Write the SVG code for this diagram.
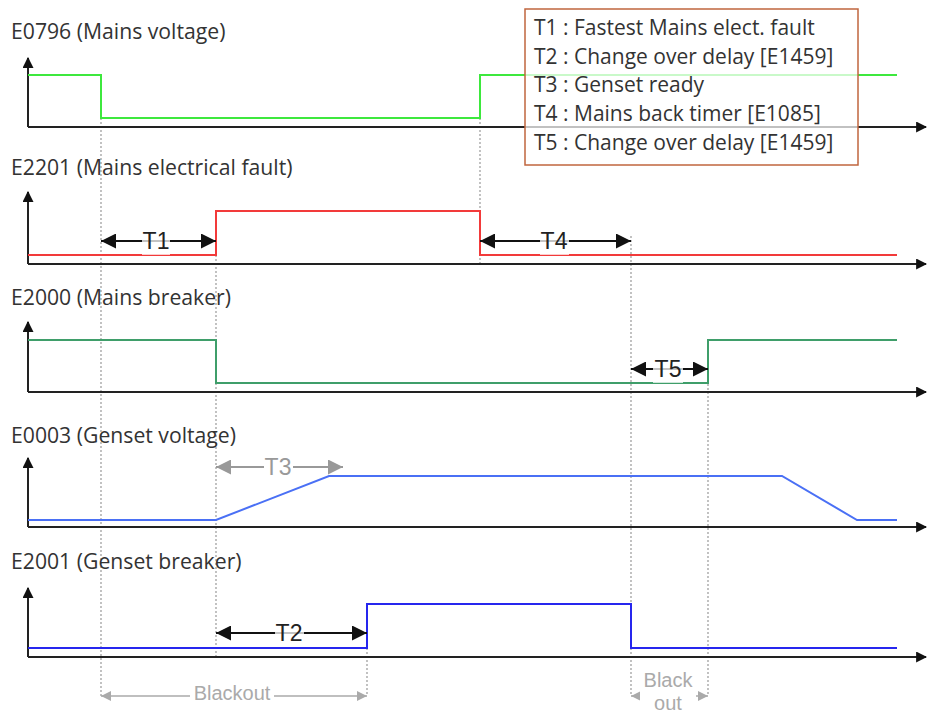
<svg xmlns="http://www.w3.org/2000/svg" width="929" height="715" viewBox="0 0 929 715">
<style>
.title{font-family:"Open Sans","Liberation Sans",sans-serif;font-size:21.2px;fill:#333}
.leg{font-family:"Open Sans","Liberation Sans",sans-serif;font-size:21px;fill:#333}
.tl{font-family:"Liberation Sans",Arial,sans-serif;font-size:23px;fill:#222;text-anchor:middle}
.tlg{font-family:"Liberation Sans",Arial,sans-serif;font-size:23px;fill:#999;text-anchor:middle}
.bo{font-family:"Liberation Sans",Arial,sans-serif;font-size:20px;fill:#aaa;text-anchor:middle}
.axis{stroke:#222;stroke-width:2;fill:none}
.dot{stroke:#999;stroke-width:1.2;stroke-dasharray:2,2;fill:none}
.sig{fill:none;stroke-width:2}
.arr{stroke:#111;stroke-width:2;fill:none}
.arrg{stroke:#999;stroke-width:2;fill:none}
.arrb{stroke:#aaa;stroke-width:1.5;fill:none}
.bg{fill:#fff}
</style>
<defs>
<marker id="ax" viewBox="0 0 10 10" refX="9" refY="5" markerWidth="11" markerHeight="11" markerUnits="userSpaceOnUse" orient="auto"><path d="M0,0 L10,5 L0,10 z" fill="#111"/></marker>
<marker id="ah" viewBox="0 0 10 10" refX="10" refY="5" markerWidth="15" markerHeight="15" markerUnits="userSpaceOnUse" orient="auto-start-reverse"><path d="M0,0 L10,5 L0,10 z" fill="#111"/></marker>
<marker id="ahg" viewBox="0 0 10 10" refX="10" refY="5" markerWidth="15" markerHeight="15" markerUnits="userSpaceOnUse" orient="auto-start-reverse"><path d="M0,0 L10,5 L0,10 z" fill="#999"/></marker>
<marker id="ahb" viewBox="0 0 10 10" refX="10" refY="5" markerWidth="10" markerHeight="10" markerUnits="userSpaceOnUse" orient="auto-start-reverse"><path d="M0,0 L10,5 L0,10 z" fill="#aaa"/></marker>
</defs>

<g id="connectors">
<path class="dot" d="M101,118 V696"/>
<path class="dot" d="M216,255 V657"/>
<path class="dot" d="M480,118 V264"/>
<path class="dot" d="M631,236 V696"/>
<path class="dot" d="M708,340 V696"/>
<path class="dot" d="M367,604 V696"/>
</g>

<g id="panel1">
<text class="title" x="11" y="39">E0796 (Mains voltage)</text>
<path class="axis" d="M28,127 V58" marker-end="url(#ax)"/>
<path class="axis" d="M28,127 H926" marker-end="url(#ax)"/>
<path class="sig" stroke="#3de83d" d="M28,75 H101 V118 H480 V75 H897"/>
</g>

<g id="panel2">
<text class="title" x="11" y="175">E2201 (Mains electrical fault)</text>
<path class="axis" d="M28,264 V192" marker-end="url(#ax)"/>
<path class="axis" d="M28,264 H926" marker-end="url(#ax)"/>
<path class="sig" stroke="#f23a3a" d="M28,255 H216 V211 H480 V255 H897"/>
</g>

<g id="panel3">
<text class="title" x="11" y="305">E2000 (Mains breaker)</text>
<path class="axis" d="M28,392 V322" marker-end="url(#ax)"/>
<path class="axis" d="M28,392 H926" marker-end="url(#ax)"/>
<path class="sig" stroke="#3f9e6a" d="M28,340 H216 V383 H708 V340 H897"/>
</g>

<g id="panel4">
<text class="title" x="11" y="443">E0003 (Genset voltage)</text>
<path class="axis" d="M28,527 V458" marker-end="url(#ax)"/>
<path class="axis" d="M28,527 H926" marker-end="url(#ax)"/>
<path class="sig" stroke="#4a70f5" d="M28,520 H216 L329,476 H782 L857,520 H897"/>
</g>

<g id="panel5">
<text class="title" x="11" y="569">E2001 (Genset breaker)</text>
<path class="axis" d="M28,657 V588" marker-end="url(#ax)"/>
<path class="axis" d="M28,657 H926" marker-end="url(#ax)"/>
<path class="sig" stroke="#2626ee" stroke-width="2.5" d="M28,648 H367 V604 H631 V648 H897"/>
</g>

<g id="T1">
<path class="arr" d="M101,241 H216" marker-start="url(#ah)" marker-end="url(#ah)"/>
<rect class="bg" x="142" y="229" width="28" height="26" opacity="0.75"/>
<text class="tl" x="156" y="249">T1</text>
</g>
<g id="T4">
<path class="arr" d="M480,241 H631" marker-start="url(#ah)" marker-end="url(#ah)"/>
<rect class="bg" x="540" y="229" width="29" height="26" opacity="0.75"/>
<text class="tl" x="554" y="249">T4</text>
</g>
<g id="T5">
<path class="arr" d="M631,369 H708" marker-start="url(#ah)" marker-end="url(#ah)"/>
<rect class="bg" x="653" y="357" width="30" height="26" opacity="0.75"/>
<text class="tl" x="668" y="377">T5</text>
</g>
<g id="T3">
<path class="arrg" d="M216,467 H343" marker-start="url(#ahg)" marker-end="url(#ahg)"/>
<rect class="bg" x="264" y="456" width="29" height="20"/>
<text class="tlg" x="278" y="475">T3</text>
</g>
<g id="T2">
<path class="arr" d="M216,633 H367" marker-start="url(#ah)" marker-end="url(#ah)"/>
<rect class="bg" x="275" y="621" width="29" height="26" opacity="0.75"/>
<text class="tl" x="289" y="641">T2</text>
</g>
<g id="blackout1">
<path class="arrb" d="M101,696 H367" marker-start="url(#ahb)" marker-end="url(#ahb)"/>
<rect class="bg" x="190" y="684" width="84" height="22"/>
<text class="bo" x="232" y="700">Blackout</text>
</g>
<g id="blackout2">
<path class="arrb" d="M631,696 H708" marker-start="url(#ahb)" marker-end="url(#ahb)"/>
<rect class="bg" x="640" y="670" width="56" height="45"/>
<text class="bo" x="668" y="687">Black</text>
<text class="bo" x="668" y="710">out</text>
</g>

<g id="legend">
<rect x="525" y="9" width="333" height="156" fill="#fff" fill-opacity="0.72" stroke="#c0653e" stroke-width="1.5"/>
<text class="leg" x="534" y="35">T1 : Fastest Mains elect. fault</text>
<text class="leg" x="534" y="64">T2 : Change over delay [E1459]</text>
<text class="leg" x="534" y="92">T3 : Genset ready</text>
<text class="leg" x="534" y="121">T4 : Mains back timer [E1085]</text>
<text class="leg" x="534" y="150">T5 : Change over delay [E1459]</text>
</g>
</svg>
